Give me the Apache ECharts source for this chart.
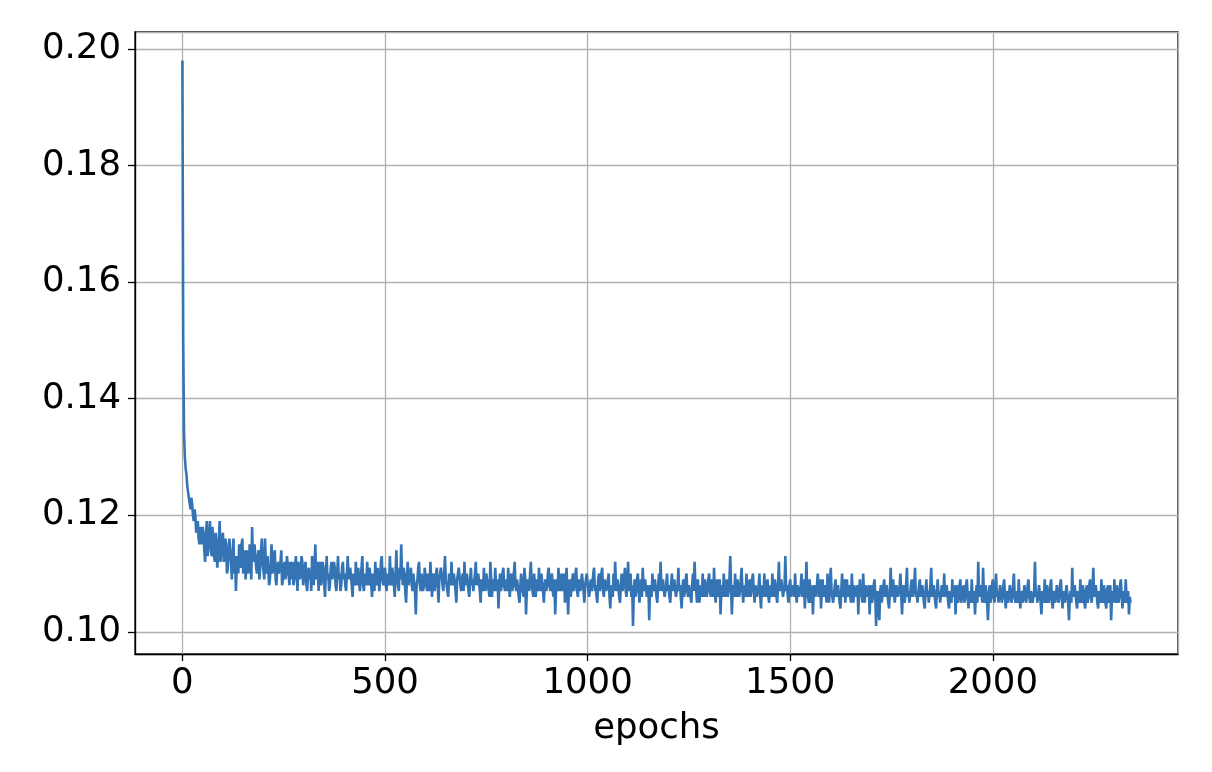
<!DOCTYPE html>
<html>
<head>
<meta charset="utf-8">
<script src="https://cdn.jsdelivr.net/npm/echarts@6/dist/echarts.min.js"></script>
<style>
  html, body { margin: 0; padding: 0; background: #ffffff; }
  #chart { width: 1212px; height: 772px; }
</style>
</head>
<body>
<div id="chart"></div>
<script>
const EPOCH_STEP = 2;
// epochs 0 - 498
const lossA = [
  .198,.150,.134,.130,.128,.127,.125,.124,.123,.122,.121,.123,.122,.120,.119,.121,.120,.117,.118,.119,.116,.115,.118,.117,.115,.118,.117,.114,.112,.116,.119,.113,.114,.117,.119,.115,.113,.118,.116,.113,.112,.117,.115,.111,.113,.116,.119,.112,.114,.116,
  .117,.112,.113,.116,.115,.110,.111,.114,.116,.113,.112,.109,.114,.116,.110,.113,.107,.111,.113,.110,.115,.112,.111,.115,.116,.110,.112,.114,.109,.112,.114,.110,.111,.115,.113,.109,.118,.113,.112,.115,.115,.111,.110,.113,.114,.109,.111,.114,.116,.112,
  .112,.109,.116,.111,.110,.113,.113,.108,.109,.112,.115,.110,.111,.113,.114,.109,.108,.111,.112,.110,.110,.112,.114,.108,.109,.111,.112,.109,.110,.113,.113,.110,.108,.112,.111,.109,.112,.108,.109,.111,.113,.110,.107,.112,.111,.109,.110,.113,.112,.108,
  .109,.111,.112,.108,.107,.110,.111,.109,.110,.107,.113,.110,.108,.111,.115,.109,.110,.112,.107,.110,.112,.108,.109,.112,.111,.108,.106,.110,.113,.109,.110,.107,.108,.111,.112,.109,.109,.112,.111,.108,.107,.110,.113,.109,.110,.107,.108,.111,.112,.109,
  .110,.108,.107,.110,.113,.109,.109,.111,.111,.108,.106,.110,.110,.108,.112,.109,.108,.111,.111,.107,.109,.111,.113,.108,.107,.110,.110,.108,.112,.109,.108,.111,.111,.108,.106,.110,.110,.107,.112,.109,.108,.111,.111,.107,.109,.112,.113,.109,.108,.110
];
// epochs 500 - 998
const lossB = [
  .111,.108,.107,.110,.110,.108,.113,.109,.108,.111,.111,.108,.106,.110,.114,.109,.109,.107,.111,.109,.115,.110,.108,.111,.110,.107,.105,.109,.112,.108,.108,.110,.111,.108,.107,.110,.110,.107,.103,.108,.109,.111,.112,.108,.107,.110,.110,.107,.108,.111,
  .111,.108,.107,.110,.109,.107,.112,.109,.106,.109,.110,.107,.108,.110,.111,.108,.105,.109,.109,.111,.111,.108,.107,.110,.113,.109,.109,.107,.106,.110,.110,.108,.112,.109,.108,.110,.110,.107,.105,.109,.109,.111,.111,.108,.107,.109,.110,.107,.112,.109,
  .108,.110,.110,.107,.106,.109,.111,.108,.109,.107,.107,.110,.112,.108,.108,.110,.110,.107,.105,.109,.109,.107,.111,.108,.107,.110,.110,.108,.108,.106,.112,.109,.106,.109,.109,.107,.111,.108,.107,.109,.104,.108,.110,.107,.108,.110,.111,.108,.107,.109,
  .109,.107,.111,.108,.106,.109,.110,.107,.108,.110,.112,.108,.107,.109,.109,.106,.105,.108,.110,.108,.108,.106,.111,.109,.103,.107,.109,.108,.107,.110,.112,.108,.108,.106,.110,.108,.106,.109,.109,.107,.111,.108,.107,.110,.110,.107,.105,.108,.109,.107,
  .108,.110,.111,.108,.107,.109,.110,.107,.106,.109,.103,.107,.109,.107,.111,.108,.107,.109,.110,.107,.108,.110,.105,.108,.111,.107,.103,.108,.109,.106,.107,.109,.110,.107,.108,.110,.111,.107,.106,.109,.109,.107,.107,.110,.110,.107,.105,.108,.108,.110
];
// epochs 1000 - 1498
const lossC = [
  .110,.107,.106,.108,.109,.107,.107,.110,.111,.107,.108,.106,.105,.109,.110,.107,.108,.110,.111,.107,.106,.109,.109,.107,.107,.109,.110,.106,.104,.108,.108,.106,.110,.107,.112,.108,.107,.109,.109,.106,.105,.108,.110,.107,.108,.109,.111,.107,.106,.109,
  .112,.107,.108,.110,.106,.108,.101,.107,.109,.106,.107,.109,.110,.107,.105,.108,.109,.106,.111,.108,.107,.109,.109,.106,.106,.108,.102,.107,.108,.106,.110,.107,.107,.109,.109,.106,.105,.108,.110,.107,.112,.108,.107,.109,.109,.106,.106,.108,.110,.107,
  .108,.106,.105,.108,.110,.107,.107,.109,.109,.106,.106,.108,.111,.107,.108,.106,.104,.107,.109,.106,.107,.109,.110,.107,.106,.108,.108,.106,.105,.108,.110,.107,.112,.108,.107,.105,.109,.107,.105,.108,.108,.106,.110,.107,.106,.109,.109,.106,.107,.109,
  .110,.107,.106,.109,.108,.106,.111,.107,.105,.108,.109,.106,.107,.109,.103,.107,.108,.106,.110,.107,.106,.108,.109,.106,.107,.109,.113,.108,.103,.107,.108,.106,.110,.107,.106,.109,.109,.106,.107,.109,.111,.107,.105,.108,.108,.106,.110,.107,.106,.108,
  .109,.106,.107,.109,.110,.107,.105,.108,.108,.106,.106,.108,.110,.106,.104,.108,.108,.106,.110,.107,.106,.108,.109,.106,.105,.108,.108,.106,.110,.107,.106,.109,.108,.106,.105,.108,.112,.107,.107,.109,.109,.106,.106,.108,.113,.107,.108,.106,.105,.108
];
// epochs 1500 - 1998
const lossD = [
  .109,.106,.106,.108,.108,.106,.110,.107,.105,.108,.108,.106,.106,.108,.110,.106,.107,.109,.104,.107,.112,.107,.107,.105,.109,.106,.105,.108,.103,.107,.108,.106,.106,.108,.110,.106,.107,.109,.104,.107,.109,.106,.106,.108,.108,.105,.110,.107,.105,.108,
  .111,.107,.107,.105,.105,.108,.109,.106,.106,.108,.108,.105,.104,.107,.110,.106,.107,.109,.105,.107,.109,.106,.106,.108,.108,.105,.110,.107,.105,.108,.108,.106,.106,.108,.103,.107,.109,.106,.107,.105,.110,.107,.105,.108,.108,.106,.106,.108,.103,.107,
  .108,.105,.106,.108,.109,.106,.101,.106,.107,.104,.102,.107,.108,.105,.105,.108,.109,.106,.106,.108,.108,.105,.104,.107,.111,.106,.107,.109,.109,.105,.105,.108,.108,.106,.106,.108,.110,.106,.103,.107,.108,.105,.106,.108,.111,.106,.107,.105,.105,.108,
  .109,.106,.106,.108,.111,.106,.107,.105,.105,.108,.109,.106,.106,.108,.108,.105,.104,.107,.109,.106,.107,.105,.105,.108,.111,.106,.106,.108,.108,.105,.104,.107,.109,.106,.107,.105,.105,.108,.108,.106,.110,.106,.106,.108,.108,.105,.104,.107,.107,.105,
  .109,.106,.106,.108,.103,.107,.108,.105,.106,.108,.109,.105,.105,.107,.108,.105,.106,.108,.109,.106,.104,.107,.107,.105,.109,.106,.105,.107,.103,.106,.108,.105,.112,.106,.106,.108,.108,.105,.111,.106,.105,.108,.107,.105,.102,.106,.108,.105,.106,.108
];
// epochs 2000 - 2340
const lossE = [
  .109,.106,.105,.107,.110,.106,.107,.105,.105,.108,.108,.105,.106,.108,.109,.106,.104,.107,.107,.105,.105,.108,.108,.105,.106,.108,.110,.106,.105,.107,.107,.105,.109,.106,.104,.107,.107,.105,.105,.108,.108,.105,.106,.108,.109,.106,.105,.107,.107,.105,
  .105,.107,.112,.106,.107,.105,.105,.108,.108,.105,.103,.107,.107,.105,.109,.106,.105,.108,.108,.105,.106,.108,.109,.105,.104,.107,.107,.105,.105,.108,.108,.105,.106,.108,.109,.106,.104,.107,.107,.105,.105,.108,.108,.105,.102,.106,.107,.105,.111,.106,
  .106,.108,.108,.105,.104,.107,.107,.105,.109,.106,.105,.108,.107,.105,.104,.107,.108,.105,.106,.108,.109,.106,.105,.107,.111,.106,.106,.108,.108,.105,.104,.107,.107,.105,.109,.106,.105,.108,.107,.105,.104,.107,.108,.105,.106,.108,.102,.106,.107,.105,
  .109,.106,.105,.108,.108,.105,.106,.108,.109,.106,.104,.107,.107,.105,.109,.106,.105,.107,.103,.106,.105
];
const xTickLabels = ['0', '500', '1000', '1500', '2000'];
const yTickLabels = ['0.10', '0.12', '0.14', '0.16', '0.18', '0.20'];

const loss = [].concat(lossA, lossB, lossC, lossD, lossE);
const seriesData = loss.map((v, i) => [i * EPOCH_STEP, v]);

const FONT = 'DejaVu Sans';
const FS = 35.5;

const chart = echarts.init(document.getElementById('chart'), null, { renderer: 'canvas' });
chart.setOption({
  animation: false,
  backgroundColor: '#ffffff',
  grid: {
    left: 135, top: 32, width: 1043, height: 622,
    show: true, borderColor: '#000000', borderWidth: 1.3,
    backgroundColor: 'transparent',
    containLabel: false,
    outerBoundsMode: 'none'
  },
  xAxis: {
    type: 'value',
    min: -117, max: 2457,
    splitNumber: 5,
    name: 'epochs',
    nameLocation: 'middle',
    nameGap: 57,
    nameTextStyle: { fontFamily: FONT, fontSize: FS, color: '#000' },
    axisLine: { show: true, onZero: false, lineStyle: { color: '#000', width: 1.3 } },
    axisTick: { show: true, inside: false, length: 7, lineStyle: { color: '#000', width: 1.3 } },
    axisLabel: {
      show: true, margin: 12, color: '#000', fontFamily: FONT, fontSize: FS,
      showMinLabel: false, showMaxLabel: false,
      formatter: function (v) {
        const s = String(Math.round(v));
        return xTickLabels.indexOf(s) >= 0 ? s : '';
      }
    },
    splitLine: { show: true, lineStyle: { color: '#b0b0b0', width: 1.3 } }
  },
  yAxis: {
    type: 'value',
    min: 0.0962, max: 0.2029,
    splitNumber: 5,
    axisLine: { show: true, onZero: false, lineStyle: { color: '#000', width: 1.3 } },
    axisTick: { show: true, inside: false, length: 7, lineStyle: { color: '#000', width: 1.3 } },
    axisLabel: {
      show: true, margin: 14, color: '#000', fontFamily: FONT, fontSize: FS,
      showMinLabel: false, showMaxLabel: false,
      formatter: function (v) {
        const s = v.toFixed(2);
        return yTickLabels.indexOf(s) >= 0 ? s : '';
      }
    },
    splitLine: { show: true, lineStyle: { color: '#b0b0b0', width: 1.3 } }
  },
  series: [{
    type: 'line',
    data: seriesData,
    showSymbol: false,
    symbol: 'none',
    sampling: null,
    lineStyle: { color: '#3574b4', width: 2.6 },
    z: 3
  }]
});
</script>
</body>
</html>
